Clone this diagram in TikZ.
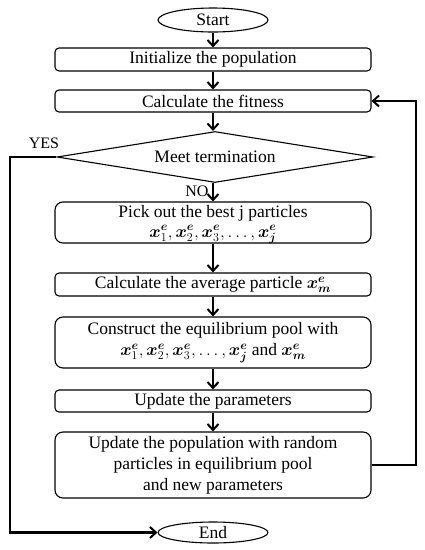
\documentclass[tikz,border=0pt]{standalone}
\usepackage{amsmath,bm}
\usepackage{fontspec}
\setmainfont{Liberation Serif}
\usetikzlibrary{arrows.meta,shapes.geometric}
\begin{document}
\begin{tikzpicture}[x=1pt,y=-1pt,
  box/.style={draw,line width=1.1pt,rounded corners=4pt,minimum width=316pt,inner sep=0pt,align=center,font=\fontsize{17.5}{21}\selectfont},
  txt/.style={inner sep=0pt,align=center,font=\fontsize{17.5}{20}\selectfont},
  oval/.style={draw,ellipse,line width=1.1pt,minimum width=110pt,inner sep=0pt,font=\fontsize{17.5}{19}\selectfont},
  dia/.style={draw,diamond,aspect=6.2,line width=1.1pt,inner sep=0pt,minimum width=316pt,minimum height=51pt,font=\fontsize{17.5}{19}\selectfont},
  conn/.style={line width=2.2pt,-{Straight Barb[length=6pt,width=11pt,line width=2pt]}},
  lbl/.style={font=\fontsize{16}{18}\selectfont,inner sep=0pt}]
\useasboundingbox (0,0) rectangle (424,550);
\node[oval,minimum height=24pt] (start) at (213,20) {Start};
\node[box,minimum height=23pt] (init) at (213,59.5) {Initialize the population};
\node[box,minimum height=22pt] (fit) at (213,101) {Calculate the fitness};
\node[dia] (meet) at (215,157) {Meet termination};
\node[box,minimum height=41pt,rounded corners=8pt] (pick) at (213,222.5) {};
\node[txt] (pickt) at (213,224.5) {Pick out the best j particles\\ $\bm{x}_1^{\bm{e}},\bm{x}_2^{\bm{e}},\bm{x}_3^{\bm{e}},\dots,\bm{x}_{\bm{j}}^{\bm{e}}$};
\node[box,minimum height=23pt] (avg) at (213,284.5) {Calculate the average particle $\bm{x}_{\bm{m}}^{\bm{e}}$};
\node[box,minimum height=51pt,rounded corners=8pt] (cons) at (213,342.5) {Construct the equilibrium pool with\\ $\bm{x}_1^{\bm{e}},\bm{x}_2^{\bm{e}},\bm{x}_3^{\bm{e}},\dots,\bm{x}_{\bm{j}}^{\bm{e}}$ and $\bm{x}_{\bm{m}}^{\bm{e}}$};
\node[box,minimum height=22pt] (par) at (213,401) {Update the parameters};
\node[box,minimum height=66pt,rounded corners=8pt] (pop) at (213,465) {Update the population with random\\ particles in equilibrium pool\\ and new parameters};
\node[oval,minimum height=21pt] (end) at (213,532.5) {End};
\coordinate (c1) at (10,157);
\coordinate (c2) at (10,532.5);
\coordinate (c3) at (416,465);
\coordinate (c4) at (416,101);
\node[lbl] (yes) at (44,143) {YES};
\node[lbl] (no) at (197,191) {NO};
\draw[conn] (start) -- (init);
\draw[conn] (init) -- (fit);
\draw[conn] (fit) -- (fit.south |- meet.north);
\draw[conn] (fit.south |- meet.south) -- (pick);
\draw[conn] (pick) -- (avg);
\draw[conn] (avg) -- (cons);
\draw[conn] (cons) -- (par);
\draw[conn] (par) -- (pop);
\draw[conn] (meet.west) -- (c1) -- (c2) -- (end.west);
\draw[conn] (pop.east) -- (c3) -- (c4) -- (fit.east);
\end{tikzpicture}
\end{document}
